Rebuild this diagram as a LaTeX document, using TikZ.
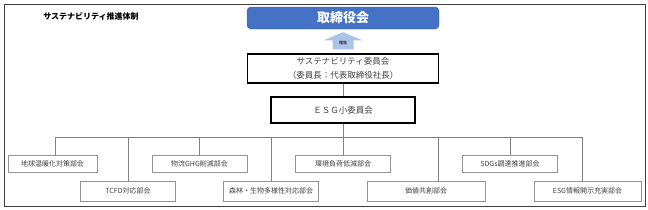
\documentclass[tikz,border=0pt]{standalone}
\usepackage{fontspec}
\setmainfont{Noto Sans CJK JP}
\usepackage{xcolor}
\usetikzlibrary{positioning,calc}

\definecolor{boardblue}{HTML}{4472C4}
\definecolor{reportblue}{HTML}{A9C4E8}
\definecolor{textgray}{HTML}{404040}
\definecolor{linegray}{HTML}{808080}

\begin{document}
\begin{tikzpicture}[
    x=1pt, y=-1pt,
    boardbox/.style={fill=boardblue, draw=boardblue!85!black, rounded corners=4pt,
                     minimum width=192pt, minimum height=22pt, inner sep=0pt,
                     text=white, font=\fontsize{13}{13}\selectfont\bfseries},
    commbox/.style={draw=black, line width=1.3pt, fill=white, align=center,
                    inner sep=0pt, text=textgray},
    subbox/.style={draw=gray!85, line width=0.6pt, fill=white, minimum width=95pt,
                   inner sep=0pt, text=textgray,
                   font=\fontsize{7}{7}\selectfont},
    rowone/.style={subbox, minimum height=17pt},
    rowtwo/.style={subbox, minimum height=20pt},
    link/.style={draw=linegray, line width=0.8pt},
]
\useasboundingbox (0,0) rectangle (648,209);
\draw[line width=1pt, draw=textgray] (4,4) rectangle (645,206);

% --- Title ---
\node[font=\fontsize{8}{8}\selectfont\bfseries] (title) at (91,16)
    {サステナビリティ推進体制};

% --- Board and committees ---
\node[boardbox] (board) at (343,18) {取締役会};

\node[commbox, minimum width=191pt, minimum height=29pt,
      font=\fontsize{8.5}{14}\selectfont] (committee) at (343,68.5)
    {サステナビリティ委員会\\（委員長：代表取締役社長）};

\node[commbox, minimum width=144pt, minimum height=26pt,
      font=\fontsize{8.5}{8.5}\selectfont] (esg) at (343,110)
    {ＥＳＧ小委員会};

% --- Report arrow ---
\fill[reportblue] ($(committee.north)+(-10.5,-4)$) -- ++(0,-9) -- ++(-9,0)
    -- ($(board.south)+(0,3)$) -- ($(committee.north)+(19.5,-13)$)
    -- ++(-9,0) -- ++(0,9) -- cycle;
\node[font=\fontsize{4}{4}\selectfont\bfseries, text=textgray] (report)
    at ($(committee.north)+(0,-10)$) {報告};

% --- Sub-committees ---
\node[rowone, minimum width=89pt] (warming) at (52.5,163.5) {地球温暖化対策部会};
\node[rowone] (logistics) at (199.5,163.5) {物流GHG削減部会};
\node[rowone] (envload) at (343,163.5) {環境負荷低減部会};
\node[rowone] (sdgs) at (510,163.5) {SDGs調達推進部会};

\node[rowtwo] (tcfd) at (128,191) {TCFD対応部会};
\node[rowtwo] (forest) at (271,191) {森林・生物多様性対応部会};
\node[rowtwo, minimum width=118pt] (value) at (426,191) {価値共創部会};
\node[rowtwo, minimum width=107pt] (disclosure) at (587.5,191) {ESG情報開示充実部会};

% --- Connectors ---
\coordinate (bus) at ($(esg.south)+(0,14)$);
\draw[link] (committee) -- (esg);
\draw[link] (esg) -- (bus);
\foreach \sub/\dx in {warming/3, logistics/0, envload/0, sdgs/0,
                      tcfd/0, forest/0, value/12, disclosure/-5}
    \draw[link] (bus) -| ([xshift=\dx pt]\sub.north);

\end{tikzpicture}
\end{document}
